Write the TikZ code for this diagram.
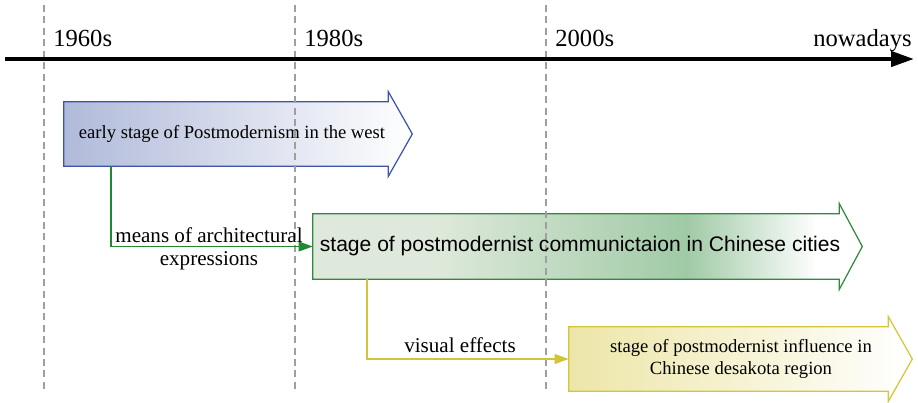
\documentclass[tikz,border=0pt]{standalone}
\usepackage{fontspec}
\setmainfont{Liberation Serif}
\setsansfont{Liberation Sans}
\usetikzlibrary{positioning,arrows.meta,backgrounds}

\definecolor{bedge}{HTML}{3F52AC}
\definecolor{bfill}{HTML}{B0BAD9}
\definecolor{gedge}{HTML}{2F8A3F}
\definecolor{gfill}{HTML}{DFE9DB}
\definecolor{gdark}{HTML}{A0CAA6}
\definecolor{yedge}{HTML}{D4C63A}
\definecolor{yfill}{HTML}{EDE6A8}
\definecolor{gline}{HTML}{23882F}
\definecolor{yline}{HTML}{D2C438}

\pgfdeclarehorizontalshading{greenstage}{100bp}{color(0bp)=(gfill); color(36bp)=(gfill); color(59bp)=(gdark); color(71bp)=(white); color(100bp)=(white)}

\begin{document}
\begin{tikzpicture}[x=0.02cm,y=-0.02cm,
	yearline/.style={draw=gray!75,line width=0.6pt,dash pattern=on 4pt off 2.5pt},
	timeline/.style={line width=2.3pt,-{Triangle[length=13pt,width=8.5pt]}},
	year/.style={font=\fontsize{14}{16}\selectfont,inner sep=0pt},
	stagebox/.style={rectangle,inner sep=0pt},
	stagetext/.style={align=center,inner sep=0pt},
	conn/.style={line width=0.8pt,-{Triangle[length=8pt,width=5.6pt]}},
	lbl/.style={font=\fontsize{12}{13}\selectfont,align=center,inner sep=0pt}]

\useasboundingbox (0,0) rectangle (918,402);

% decades
\foreach \x/\yr in {44/1960s,295/1980s,546/2000s}{
	\draw[yearline] (\x,5) -- (\x,392);
	\node[year,anchor=base west] (y\yr) at (\x+9,47) {\yr};
}
\node[year,anchor=base east] (now) at (912,47) {nowadays};
\coordinate (tstart) at (5,59);
\coordinate (tend) at (914,59);
\draw[timeline] (tstart) -- (tend);

% stages
\node[stagebox,minimum width=6.48cm,minimum height=1.28cm,label={[stagetext,xshift=0.12cm,font=\fontsize{10.6}{12.5}\selectfont]center:early stage of Postmodernism in the west}] (early) at (226,134) {};
\node[stagebox,minimum width=10.52cm,minimum height=1.3cm,label={[stagetext,xshift=0.08cm,font=\sffamily\fontsize{12}{14}\selectfont]center:stage of postmodernist communictaion in Chinese cities}] (comm) at (576,246.5) {};
\node[stagebox,minimum width=6.38cm,minimum height=1.28cm,label={[stagetext,xshift=0.25cm,font=\fontsize{10.6}{12.6}\selectfont]center:{stage of postmodernist influence in\\Chinese desakota region}}] (infl) at (728.5,359) {};

\begin{scope}[on background layer]
	\draw[draw=bedge,line width=0.7pt,left color=bfill,right color=white] (early.north west) -- (early.north east) -- ++(0,-10) -- ([xshift=0.48cm]early.east) -- ([yshift=-0.2cm]early.south east) -- (early.south east) -- (early.south west) -- cycle;
	\path[draw=gedge,line width=0.7pt,shade,shading=greenstage] (comm.north west) -- (comm.north east) -- ++(0,-10) -- ([xshift=0.46cm]comm.east) -- ([yshift=-0.2cm]comm.south east) -- (comm.south east) -- (comm.south west) -- cycle;
	\draw[draw=yedge,line width=0.7pt,left color=yfill,right color=white] (infl.north west) -- (infl.north east) -- ++(0,-10) -- ([xshift=0.48cm]infl.east) -- ([yshift=-0.2cm]infl.south east) -- (infl.south east) -- (infl.south west) -- cycle;
\end{scope}

% connectors
\coordinate (g1) at (111,0);
\coordinate (y1) at (367,0);
\draw[conn,gline] (g1 |- early.south) |- (comm.west);
\draw[conn,yline] (y1 |- comm.south) |- (infl.west);
\node[lbl] (means) at (209,249) {means of architectural\\expressions};
\node[lbl,anchor=base] (vis) at (460,352) {visual effects};

\end{tikzpicture}
\end{document}
